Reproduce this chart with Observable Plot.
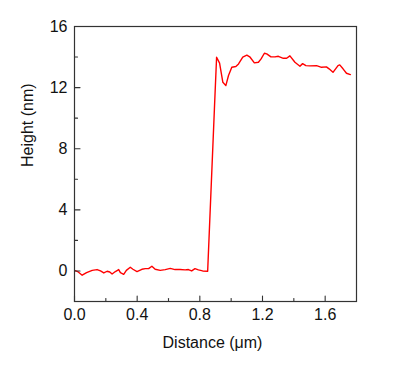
<!DOCTYPE html>
<html>
<head>
<meta charset="utf-8">
<script src="https://cdn.jsdelivr.net/npm/d3@7"></script>
<script src="https://cdn.jsdelivr.net/npm/@observablehq/plot@0.6"></script>
<style>
  html, body { margin: 0; padding: 0; background: #fff; }
</style>
</head>
<body>
<div id="chart"></div>
<script>
const distance = [0, 0.02, 0.049, 0.077, 0.113, 0.144, 0.166, 0.187, 0.208, 0.225, 0.240, 0.261, 0.282, 0.293, 0.314, 0.331, 0.356, 0.373, 0.399, 0.430, 0.452, 0.473, 0.494, 0.515, 0.547, 0.579, 0.611, 0.642, 0.674, 0.706, 0.727, 0.748, 0.769, 0.791, 0.818, 0.850, 0.893, 0.907, 0.926, 0.947, 0.966, 0.983, 1.004, 1.030, 1.047, 1.074, 1.100, 1.121, 1.148, 1.174, 1.191, 1.212, 1.227, 1.254, 1.280, 1.301, 1.333, 1.354, 1.375, 1.407, 1.439, 1.456, 1.477, 1.502, 1.545, 1.577, 1.608, 1.625, 1.650, 1.682, 1.693, 1.714, 1.736, 1.761];
const height = [0.04, -0.04, -0.28, -0.11, 0.04, 0.09, 0, -0.13, -0.02, -0.07, -0.2, -0.04, 0.09, -0.11, -0.22, 0.04, 0.24, 0.11, -0.04, 0.11, 0.15, 0.15, 0.31, 0.11, 0.04, 0.09, 0.17, 0.09, 0.09, 0.07, 0.09, 0, 0.15, 0.07, 0, -0.02, 10.6, 13.99, 13.6, 12.35, 12.13, 12.79, 13.33, 13.38, 13.55, 13.99, 14.12, 13.99, 13.62, 13.66, 13.88, 14.25, 14.21, 14.01, 14.01, 14.05, 13.92, 13.92, 14.08, 13.66, 13.4, 13.57, 13.44, 13.42, 13.44, 13.33, 13.36, 13.23, 13.0, 13.44, 13.49, 13.23, 12.94, 12.85];

const xMajorTicks = [0, 0.4, 0.8, 1.2, 1.6];
const xMinorTicks = [0.2, 0.6, 1.0, 1.4];
const yMajorTicks = [0, 4, 8, 12, 16];
const yMinorTicks = [-2, 2, 6, 10, 14];
const xLabel = "Distance (\u03bcm)";
const yLabel = "Height (nm)";

const data = distance.map((d, i) => ({x: d, y: height[i]}));

const tickShape = {draw(context, l) { context.moveTo(0, 0); context.lineTo(0, -l); }};
const axisColor = "#333";

const chart = Plot.plot({
  width: 397,
  height: 366,
  marginLeft: 74,
  marginRight: 41,
  marginTop: 26,
  marginBottom: 65,
  style: {fontFamily: "'Liberation Sans', Arial, sans-serif", fontSize: "16px", color: "#111", background: "#fff"},
  x: {domain: [0, 1.8]},
  y: {domain: [-2, 16]},
  marks: [
    Plot.line(data, {x: "x", y: "y", stroke: "#ff0000", strokeWidth: 1.4, clip: true}),
    Plot.frame({stroke: axisColor, strokeWidth: 1.2}),
    Plot.vector(xMajorTicks, {x: d => d, frameAnchor: "bottom", length: 5.5, anchor: "start", rotate: 0, shape: tickShape, stroke: axisColor, strokeWidth: 1.1}),
    Plot.vector(xMinorTicks, {x: d => d, frameAnchor: "bottom", length: 3, anchor: "start", rotate: 0, shape: tickShape, stroke: axisColor, strokeWidth: 1.1}),
    Plot.vector(yMajorTicks, {y: d => d, frameAnchor: "left", length: 5.5, anchor: "start", rotate: 90, shape: tickShape, stroke: axisColor, strokeWidth: 1.1}),
    Plot.vector(yMinorTicks, {y: d => d, frameAnchor: "left", length: 3, anchor: "start", rotate: 90, shape: tickShape, stroke: axisColor, strokeWidth: 1.1}),
    Plot.axisX(xMajorTicks, {tickSize: 0, tickPadding: 7, tickFormat: d3.format(".1f"), fontSize: 16, label: null}),
    Plot.axisY(yMajorTicks, {tickSize: 0, tickPadding: 7, tickFormat: d => String(d), fontSize: 16, label: null}),
    Plot.text([xLabel], {frameAnchor: "bottom", dy: 46, dx: -3, lineAnchor: "bottom", fontSize: 16, fill: "#111"}),
    Plot.text([yLabel], {frameAnchor: "left", dx: -42, dy: 3, rotate: -90, lineAnchor: "bottom", fontSize: 16, fill: "#111"})
  ]
});
document.getElementById("chart").appendChild(chart);
</script>
</body>
</html>
